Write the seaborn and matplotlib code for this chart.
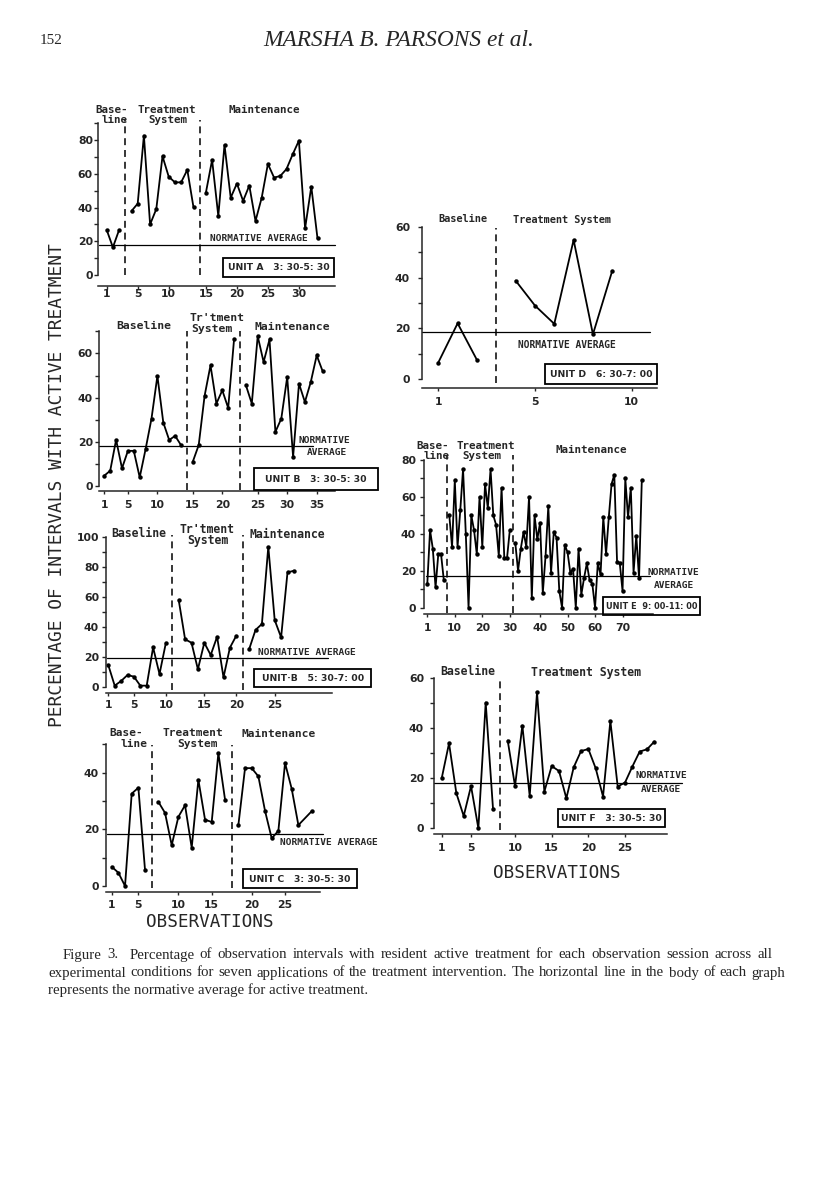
import numpy as np
import pandas as pd
import matplotlib
matplotlib.use("Agg")
import matplotlib.pyplot as plt
import seaborn as sns
from matplotlib.patches import Rectangle

nan = np.nan

# ---------------- data (percentage of intervals with active treatment) ----------------
# Unit A 3:30-5:30
unitA_base = [26.7, 16.4, 26.7]
unitA_treat = [37.9, 42.3, 82.6, 30.0, 39.1, 70.4, 58.3, 54.9, 54.9, 62.3, 40.1]
unitA_maint = [48.8, 68.2, 35.0, 77.1, 45.8, 54.2, 43.9, 53.0, 32.0, 45.8, 65.8,
               57.7, 58.7, 62.8, 71.5, 79.6, 27.7, 52.4, 21.7]
unitA_xticks = [1, 5, 10, 15, 20, 25, 30]

# Unit B 3:30-5:30
unitB1_base = [4.7, 6.9, 20.9, 8.0, 15.9, 15.9, 3.9, 16.7, 30.5, 49.8, 28.7, 20.8, 22.7, 18.5]
unitB1_treat = [11.0, 18.5, 40.8, 54.6, 37.3, 43.3, 35.3, 66.6]
unitB1_maint = [45.6, 37.3, 67.8, 56.1, 66.3, 24.5, 30.5, 49.3, 13.2, 46.3, 38.0, 47.1, 59.1, 52.0]
unitB1_xticks = [1, 5, 10, 15, 20, 25, 30, 35]

# Unit B 5:30-7:00
unitB2_base = [14.4, 0.7, 3.8, 7.8, 6.7, 0.7, 0.7, 26.2, 8.4, 29.3]
unitB2_treat = [57.8, 31.6, 29.3, 11.6, 29.3, 21.1, 33.3, 6.2, 26.0, 34.0]
unitB2_maint = [24.9, 37.8, 41.8, 93.3, 44.4, 32.9, 76.2, 77.3]
unitB2_xticks = [1, 5, 10, 15, 20, 25]

# Unit C 3:30-5:30
unitC_base = [6.8, 4.7, 0.0, 32.6, 34.7, 5.6]
unitC_treat = [29.7, 25.8, 14.4, 24.4, 28.5, 13.5, 37.5, 23.4, 22.6, 46.9, 30.5]
unitC_maint = [21.5, 41.6, 41.6, 38.7, 26.5, 16.8, 19.5, 43.4, 34.3, 21.5, nan, 26.4]
unitC_xticks = [1, 5, 10, 15, 20, 25]

# Unit D 6:30-7:00
unitD_base = [6.6, 22.0, 7.6]
unitD_treat = [38.8, 29.0, 21.8, 54.8, 17.7, 42.7]
unitD_xticks = [1, 5, 10]

# Unit E 9:00-11:00
unitE_base = [13, 42, 32, 11, 29, 29, 15]
unitE_treat = [50, 33, 69, 33, 53, 75, 40, 0, 50, 42, 29, 60, 33, 67, 54, 75, 50, 45,
               28, 65, 27, 27, 42]
unitE_maint = [35, 20, 32, 41, 33, 60, 5, 50, 37, 46, 8, 28, 55, 19, 41, 38, 9, 0, 34,
               30, 19, 21, 0, 32, 7, 16, 24, 15, 13, 0, 24, 18, 49, 29, 49, 67, 72, 25,
               24, 9, 70, 49, 65, 19, 39, 16, 69]
unitE_xticks = [1, 10, 20, 30, 40, 50, 60, 70]

# Unit F 3:30-5:30
unitF_base = [20, 34, 14, 4.9, 16.9, 0, 50.3, 7.7]
unitF_treat = [35.1, 16.9, 41.1, 12.9, 54.4, 14.7, 24.9, 22.9, 12, 24.4, 30.9, 31.7,
               24, 12.7, 42.9, 16.7, 18.3, 24.7, 30.7, 31.6, 34.7]
unitF_xticks = [1, 5, 10, 15, 20, 25]

# normative average for active treatment (per graph)
norm_avg = [17.8, 18.2, 18.9, 18.2, 18.7, 17.1, 18.0]

caption_lines = [
    "Figure 3.  Percentage of observation intervals with resident active treatment for each "
    "observation session across all",
    "experimental conditions for seven applications of the treatment intervention. The "
    "horizontal line in the body of each graph",
    "represents the normative average for active treatment.",
]

# ---------------- figure ----------------
W, H = 816, 1195
PT = 72 / 100  # points per pixel

sns.set_style("ticks")
plt.rcParams["font.family"] = ["DejaVu Sans"]
plt.rcParams["lines.scale_dashes"] = False
plt.rcParams["axes.linewidth"] = 1.1

fig = plt.figure(figsize=(W / 100, H / 100), dpi=100)
fig.patch.set_facecolor("white")
MONO = "DejaVu Sans Mono"
SER = "Liberation Serif"


def ftext(x, y, s, size, ha="center", family=MONO, weight="bold", style="normal", rotation=0):
    return fig.text(x / W, 1 - y / H, s, ha=ha, va="center", fontsize=size, family=family,
                    weight=weight, style=style, rotation=rotation)


def unit_box(x0, x1, y0, y1, s, size=6.7):
    fig.add_artist(Rectangle((x0 / W, 1 - y1 / H), (x1 - x0) / W, (y1 - y0) / H,
                             transform=fig.transFigure, fill=False, lw=1.3, ec="black"))
    ftext((x0 + x1) / 2, (y0 + y1) / 2 + 0.5, s, size, family="DejaVu Sans")


def justified(x0, x1, y, line, size):
    r = fig.canvas.get_renderer()
    objs = [ftext(0, y, w, size, ha="left", family=SER, weight="normal") for w in line.split(" ")]
    widths = [t.get_window_extent(r).width if t.get_text() else 0 for t in objs]
    gap = (x1 - x0 - sum(widths)) / (len(objs) - 1)
    x = x0
    for t, w in zip(objs, widths):
        t.set_x(x / W)
        x += w + gap


def positions(phases):
    pos, gaps, start = [], [], 1
    for i, ph in enumerate(phases):
        if i:
            gaps.append(start)
            start += 1
        pos.append(np.arange(start, start + len(ph), dtype=float))
        start += len(ph)
    return pos, gaps


def draw_panel(phases, xticks, yticks, ytop, norm, box, xmap, ymap, norm_px, phase_y,
               xpad, ypad):
    l, r, t, b = box
    x1, step = xmap
    y0, ppu = ymap

    def px2x(px):
        return 1 + (px - x1) / step

    def px2y(py):
        return (y0 - py) / ppu

    ax = fig.add_axes([l / W, 1 - b / H, (r - l) / W, (b - t) / H])
    ax.patch.set_alpha(0)
    pos, gaps = positions(phases)
    df = pd.concat([pd.DataFrame({"session": p, "pct": v, "phase": i})
                    for i, (p, v) in enumerate(zip(pos, phases))]).dropna()
    sns.lineplot(data=df, x="session", y="pct", units="phase", estimator=None,
                 color="black", linewidth=1.3, marker="o", markersize=3.2,
                 markeredgewidth=0, legend=False, ax=ax)
    ax.set_xlim(px2x(l), px2x(r))
    ax.set_ylim(px2y(b), px2y(t))
    ax.set_xlabel("")
    ax.set_ylabel("")

    flat = np.concatenate(pos)
    tpos = [flat[n - 1] if n <= len(flat) else flat[-1] + (n - len(flat)) for n in xticks]
    ax.set_xticks(tpos, labels=[str(n) for n in xticks])
    ax.set_yticks(yticks, labels=[str(v) for v in yticks])
    ax.set_yticks([v for v in range(10, ytop + 1, 10) if v not in yticks], minor=True)
    ax.tick_params(axis="y", which="both", direction="out", length=4 * PT, width=1.0,
                   pad=max(ypad - 4, 0.5) * PT, labelsize=7.8)
    ax.tick_params(axis="x", direction="out", length=3 * PT, width=1.0,
                   pad=max(xpad - 3, 0) * PT, labelsize=7.8)
    for lab in ax.get_xticklabels() + ax.get_yticklabels():
        lab.set_fontweight("bold")
    sns.despine(ax=ax)
    ax.spines["left"].set_bounds(0, ytop)

    ax.plot([px2x(norm_px[0]), px2x(norm_px[1])], [norm, norm], color="black", lw=0.9,
            clip_on=False)
    for g in gaps:
        ax.plot([g, g], phase_y, color="black", lw=1.1, ls=(0, (5, 3.5)), clip_on=False)
    return ax


# Unit A 3:30-5:30
draw_panel([unitA_base, unitA_treat, unitA_maint], unitA_xticks, [0, 20, 40, 60, 80], 90,
           norm_avg[0], (98, 335, 118, 286), (106.7, 6.2), (275, 1.6875), (99, 335),
           (0, 92), 2, 5)
sz = 7.8
ftext(112, 110, "Base-", sz); ftext(114.5, 120, "line", sz)
ftext(167, 110, "Treatment", sz); ftext(168, 120, "System", sz)
ftext(264, 110, "Maintenance", sz)
ftext(210, 238.3, "NORMATIVE AVERAGE", 6.8, ha="left")
unit_box(223.3, 334.3, 257.7, 276.7, "UNIT A   3: 30-5: 30")

# Unit B 3:30-5:30
draw_panel([unitB1_base, unitB1_treat, unitB1_maint], unitB1_xticks, [0, 20, 40, 60], 70,
           norm_avg[1], (99, 335, 325, 491), (104.3, 5.9), (486, 2.21), (99, 313),
           (-2, 70), 9, 6)
sz = 8.2
ftext(143.3, 325.7, "Baseline", sz)
ftext(217, 318.3, "Tr'tment", sz); ftext(212.3, 329, "System", sz)
ftext(292, 326.7, "Maintenance", sz)
ftext(298.3, 440, "NORMATIVE", 6.8, ha="left")
ftext(306.7, 452.7, "AVERAGE", 6.8, ha="left")
unit_box(254.3, 377.7, 468.3, 490, "UNIT B   3: 30-5: 30")

# Unit B 5:30-7:00
draw_panel([unitB2_base, unitB2_treat, unitB2_maint], unitB2_xticks,
           [0, 20, 40, 60, 80, 100], 100, norm_avg[2], (106, 332, 530, 693), (108.3, 6.4),
           (686.7, 1.5), (106.7, 328), (-2, 101), 7, 7)
sz = 8.3
ftext(139.2, 533.3, "Baseline", sz)
ftext(207.5, 529.3, "Tr'tment", sz); ftext(208.3, 540, "System", sz)
ftext(287.8, 534, "Maintenance", sz)
ftext(257.7, 652.7, "NORMATIVE AVERAGE", 6.8, ha="left")
unit_box(254.3, 371, 669, 686.7, "UNIT·B   5: 30-7: 00")

# Unit C 3:30-5:30
draw_panel([unitC_base, unitC_treat, unitC_maint], unitC_xticks, [0, 20, 40], 50,
           norm_avg[3], (106, 320, 740, 892), (111.7, 6.667), (886, 2.833), (106.7, 323),
           (-0.7, 49.6), 8, 7)
sz = 8.0
ftext(126.7, 733.3, "Base-", sz); ftext(134.2, 744, "line", sz)
ftext(193.3, 733.3, "Treatment", sz); ftext(197.2, 744, "System", sz)
ftext(278.3, 734, "Maintenance", sz)
ftext(280, 842.7, "NORMATIVE AVERAGE", 6.8, ha="left")
unit_box(242.7, 356.7, 869, 888.3, "UNIT C   3: 30-5: 30")
ftext(210, 921.7, "OBSERVATIONS", 12.7, weight="normal")

# Unit D 6:30-7:00
draw_panel([unitD_base, unitD_treat], unitD_xticks, [0, 20, 40, 60], 60,
           norm_avg[4], (422, 657, 222, 388), (438.3, 19.33), (379.3, 2.543), (422, 650),
           (-1.5, 59.5), 9, 12)
sz = 7.4
ftext(462.5, 219, "Baseline", sz)
ftext(561.7, 220, "Treatment System", sz)
ftext(518.3, 345, "NORMATIVE AVERAGE", 6.9, ha="left")
unit_box(545, 657, 364.3, 383.5, "UNIT D   6: 30-7: 00")

# Unit E 9:00-11:00
draw_panel([unitE_base, unitE_treat, unitE_maint], unitE_xticks, [0, 20, 40, 60, 80], 80,
           norm_avg[5], (424, 653, 455, 614), (427.3, 2.75), (607.7, 1.846), (425.7, 650),
           (-3, 82.7), 8.7, 8)
sz = 7.8
ftext(433, 446, "Base-", sz); ftext(437, 456, "line", sz)
ftext(486, 446, "Treatment", sz); ftext(482, 456, "System", sz)
ftext(591, 450, "Maintenance", sz)
ftext(648, 572, "NORMATIVE", 6.8, ha="left")
ftext(654, 585, "AVERAGE", 6.8, ha="left")
unit_box(603, 700, 597, 614.5, "UNIT E  9: 00-11: 00", size=5.9)

# Unit F 3:30-5:30
draw_panel([unitF_base, unitF_treat], unitF_xticks, [0, 20, 40, 60], 60,
           norm_avg[6], (434, 667, 675, 834), (441.7, 7.333), (828.3, 2.5), (434.3, 682),
           (-0.7, 60.5), 9, 10)
sz = 8.3
ftext(467.5, 671.7, "Baseline", sz)
ftext(586, 672.7, "Treatment System", sz)
ftext(636, 776, "NORMATIVE", 6.8, ha="left")
ftext(641, 790, "AVERAGE", 6.8, ha="left")
unit_box(557.7, 665, 809, 826.7, "UNIT F   3: 30-5: 30")
ftext(557, 872.7, "OBSERVATIONS", 12.7, weight="normal")

# shared y label
ftext(57, 485, "PERCENTAGE OF INTERVALS WITH ACTIVE TREATMENT", 12.9, weight="normal",
      rotation=90)

# running header
ftext(40, 40, "152", 11, ha="left", family=SER, weight="normal")
ftext(399, 40, "MARSHA B. PARSONS et al.", 16.8, family=SER, weight="normal",
      style="italic")

# caption (justified lines)
justified(63, 772, 955, caption_lines[0], 10.7)
justified(48, 785, 973, caption_lines[1], 10.7)
ftext(48, 990, caption_lines[2], 10.7, ha="left", family=SER, weight="normal")

fig.savefig("out.png", dpi=100, facecolor="white")
